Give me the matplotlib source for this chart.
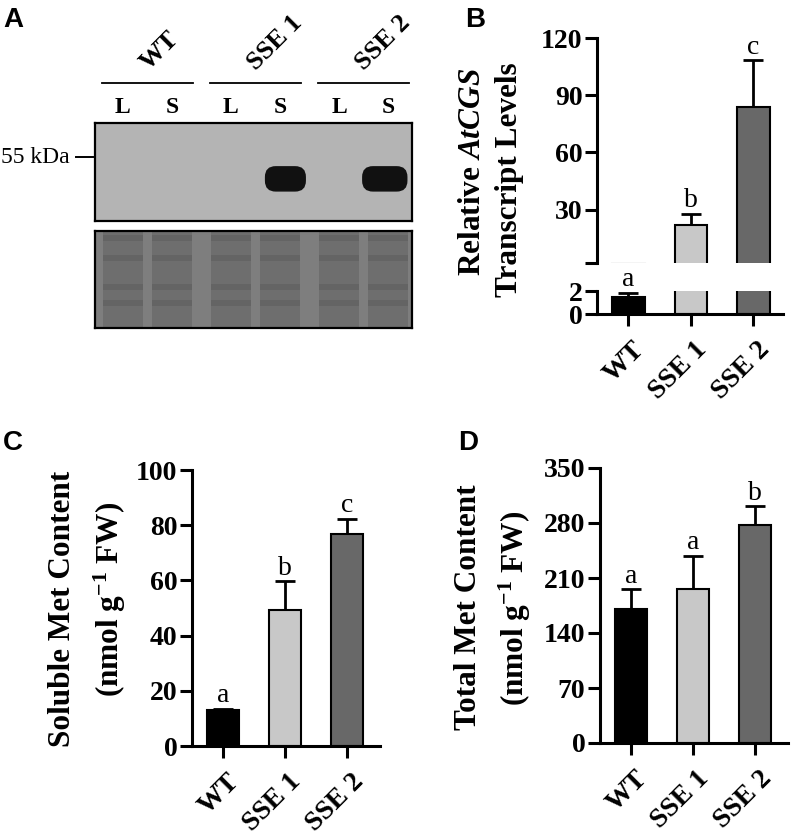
import matplotlib
matplotlib.use('Agg')
import matplotlib.pyplot as plt
from matplotlib.patches import Rectangle, FancyBboxPatch
import matplotlib.transforms as mtransforms

plt.rcParams['font.family'] = ['Liberation Serif', 'DejaVu Serif']
plt.rcParams['font.weight'] = 'bold'
plt.rcParams['mathtext.fontset'] = 'custom'
plt.rcParams['mathtext.rm'] = 'Liberation Serif:bold'
plt.rcParams['mathtext.it'] = 'Liberation Serif:italic:bold'
plt.rcParams['mathtext.bf'] = 'Liberation Serif:bold'

# ---------------- data ----------------
genotypes = ['WT', 'SSE 1', 'SSE 2']
bar_colors = ['#000000', '#c8c8c8', '#686868']

transcript_mean = [1.5, 22.1, 83.7]
transcript_err = [0.36, 5.8, 24.7]
transcript_letters = ['a', 'b', 'c']

soluble_mean = [13.1, 49.1, 76.7]
soluble_err = [0.4, 10.6, 5.7]
soluble_letters = ['a', 'b', 'c']

total_mean = [170.5, 195.6, 277.0]
total_err = [25.5, 43.0, 24.5]
total_letters = ['a', 'a', 'b']

blot_lanes = ['L', 'S']
band_signal = [[0, 0], [0, 1], [0, 1]]   # immunoblot band present per group/lane

# ---------------- layout helpers ----------------
W, H = 792, 836
fig = plt.figure(figsize=(W / 100, H / 100), dpi=100)


def px(x0, y0, x1, y1):
    return [x0 / W, 1 - y1 / H, (x1 - x0) / W, (y1 - y0) / H]


LW = 2.2
TICKFS = 20


def style(ax, show_bottom=True):
    for s in ['top', 'right']:
        ax.spines[s].set_visible(False)
    ax.spines['left'].set_linewidth(LW)
    ax.spines['bottom'].set_linewidth(LW)
    ax.spines['bottom'].set_visible(show_bottom)
    ax.tick_params(width=LW, length=8.5, labelsize=TICKFS, pad=2)


def draw_bars(ax, means, errs, err_idx=None):
    x = list(range(len(means)))
    ax.bar(x, means, width=0.52, color=bar_colors, edgecolor='black',
           linewidth=1.5, zorder=2)
    if err_idx is None:
        err_idx = x
    ex = [i for i in err_idx]
    ey = [means[i] for i in err_idx]
    ee = [errs[i] for i in err_idx]
    if ex:
        ax.errorbar(ex, ey, yerr=[[0] * len(ee), ee], fmt='none',
                    ecolor='black', elinewidth=2, capsize=7, capthick=2,
                    zorder=1)


def draw_letters(ax, means, errs, letters, idx=None):
    for i, (m, e, l) in enumerate(zip(means, errs, letters)):
        if idx is not None and i not in idx:
            continue
        ax.annotate(l, (i, m + e), xytext=(0, 4.5), textcoords='offset points',
                    ha='center', va='baseline', fontsize=20,
                    fontweight='normal', annotation_clip=False)


def xlabels(ax):
    ax.set_xticks(range(len(genotypes)))
    ax.set_xticklabels([])
    for i, g in enumerate(genotypes):
        ax.annotate(g, (i, 0), xycoords=('data', 'axes fraction'),
                    xytext=(2.5, -16.5), textcoords='offset points',
                    rotation=45, ha='right', va='top', rotation_mode='anchor',
                    fontsize=20, annotation_clip=False)


# ---------------- panel A: immunoblot ----------------
axA = fig.add_axes(px(95, 123, 412, 221))
axA.set_xlim(-0.486, 2.449)
axA.set_ylim(0, 1)
axA.set_facecolor('#b4b4b4')
axA.set_xticks([])
axA.set_yticks([])
for s in axA.spines.values():
    s.set_linewidth(1.6)

lane_off = [-0.227, 0.227]
band_shift = [0.0, 0.05, -0.03]
band_width = [0.38, 0.38, 0.42]
blend = mtransforms.blended_transform_factory(axA.transData, axA.transAxes)
for g, name in enumerate(genotypes):
    axA.plot([g - 0.42, g + 0.42], [1.408, 1.408], color='black', lw=1.3,
             transform=blend, clip_on=False)
    axA.text(g + 0.04, 1.49, name, rotation=45, ha='left', va='bottom',
             rotation_mode='anchor', fontsize=19, transform=blend)
    for j, lane in enumerate(blot_lanes):
        xc = g + lane_off[j]
        axA.text(xc, 1.163, lane, ha='center', va='center', fontsize=17,
                 transform=blend)
        if band_signal[g][j]:
            bw = band_width[g]
            cx = xc + band_shift[g]
            band = FancyBboxPatch((cx - bw / 2, 0.30), bw, 0.26,
                                  boxstyle='round,pad=0,rounding_size=0.1',
                                  mutation_aspect=1.1, facecolor='#111111',
                                  edgecolor='none')
            axA.add_patch(band)

axA.plot([-0.662, -0.505], [0.65, 0.65], color='black', lw=1.4,
         transform=blend, clip_on=False)
axA.text(-0.718, 0.65, '55 kDa', ha='right', va='center', fontsize=17,
         fontweight='normal', transform=blend)

axL = fig.add_axes(px(95, 231, 412, 328))
axL.set_xlim(-0.486, 2.449)
axL.set_ylim(0, 1)
axL.set_facecolor('#7e7e7e')
axL.set_xticks([])
axL.set_yticks([])
for s in axL.spines.values():
    s.set_linewidth(1.6)
load_bands = [0.93, 0.72, 0.42, 0.26]
for g in range(len(genotypes)):
    for j in range(len(blot_lanes)):
        xc = g + lane_off[j]
        axL.add_patch(Rectangle((xc - 0.185, 0), 0.37, 1, facecolor='#6e6e6e',
                                edgecolor='none'))
        for yb in load_bands:
            axL.add_patch(Rectangle((xc - 0.185, yb - 0.03), 0.37, 0.06,
                                    facecolor='#4e4e4e', edgecolor='none',
                                    alpha=0.3))

# ---------------- panel B: transcript (broken axis) ----------------
B_LO, B_HI = 2, 120
axBt = fig.add_axes(px(597, 38, 783, 263))
axBb = fig.add_axes(px(597, 290.5, 783, 314))
top_idx = [i for i, m in enumerate(transcript_mean) if m > B_LO]
bot_idx = [i for i, m in enumerate(transcript_mean) if m <= B_LO]
draw_bars(axBt, transcript_mean, transcript_err, top_idx)
draw_bars(axBb, transcript_mean, transcript_err, bot_idx)
for ax in (axBt, axBb):
    ax.set_xlim(-0.5, 2.476)
style(axBt, show_bottom=False)
style(axBb)
axBt.set_ylim(B_LO, B_HI)
axBt.set_yticks([B_LO, 30, 60, 90, 120])
axBt.set_yticklabels(['', '30', '60', '90', '120'])
axBt.set_xticks([])
axBb.set_ylim(0, 2.05)
axBb.set_yticks([0, 2])
xlabels(axBb)
draw_letters(axBt, transcript_mean, transcript_err, transcript_letters, top_idx)
draw_letters(axBb, transcript_mean, transcript_err, transcript_letters, bot_idx)

fig.text(473 / W, 1 - 172 / H, r'Relative $\mathit{AtCGS}$', rotation=90,
         ha='center', va='center', fontsize=22.5)
fig.text(510 / W, 1 - 180 / H, 'Transcript Levels', rotation=90,
         ha='center', va='center', fontsize=22.5)

# ---------------- panel C: soluble Met ----------------
axC = fig.add_axes(px(192, 470, 380, 746))
draw_bars(axC, soluble_mean, soluble_err)
style(axC)
axC.set_xlim(-0.5, 2.53)
axC.set_ylim(0, 100)
axC.set_yticks([0, 20, 40, 60, 80, 100])
xlabels(axC)
draw_letters(axC, soluble_mean, soluble_err, soluble_letters)
fig.text(63 / W, 1 - 609 / H, 'Soluble Met Content', rotation=90,
         ha='center', va='center', fontsize=22.5)
fig.text(110 / W, 1 - 599 / H, r'(nmol g$^{-1}$ FW)', rotation=90,
         ha='center', va='center', fontsize=22.5)

# ---------------- panel D: total Met ----------------
axD = fig.add_axes(px(600, 468, 788, 743))
draw_bars(axD, total_mean, total_err)
style(axD)
axD.set_xlim(-0.5, 2.53)
axD.set_ylim(0, 350)
axD.set_yticks([0, 70, 140, 210, 280, 350])
xlabels(axD)
draw_letters(axD, total_mean, total_err, total_letters)
fig.text(468 / W, 1 - 607 / H, 'Total Met Content', rotation=90,
         ha='center', va='center', fontsize=22.5)
fig.text(515 / W, 1 - 608 / H, r'(nmol g$^{-1}$ FW)', rotation=90,
         ha='center', va='center', fontsize=22.5)

# ---------------- panel letters ----------------
for lab, x, y in [('A', 3, 27), ('B', 465, 27), ('C', 3, 450), ('D', 458, 450)]:
    fig.text(x / W, 1 - y / H, lab, ha='left', va='baseline', fontsize=20,
             fontweight='bold', family=['Liberation Sans', 'DejaVu Sans'])

fig.savefig('out.png', dpi=100)
